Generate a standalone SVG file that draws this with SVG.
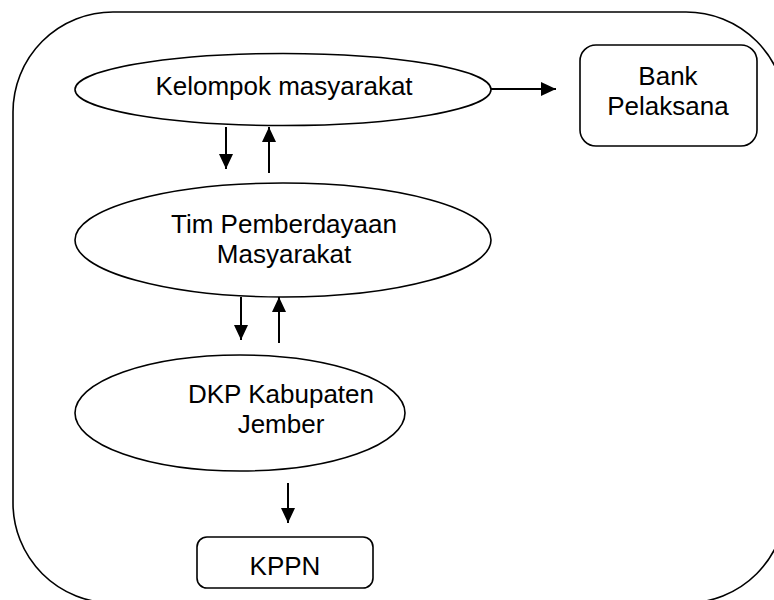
<svg xmlns="http://www.w3.org/2000/svg" width="774" height="600" viewBox="0 0 774 600">
<style>
.shape{fill:#fff;stroke:#000;stroke-width:1.6}
.outer{fill:none;stroke:#000;stroke-width:1.6}
.lbl{font-family:"Liberation Sans",Arial,sans-serif;font-size:26px;fill:#000;text-anchor:middle}
.conn{stroke:#000;stroke-width:2;fill:none}
</style>
<defs>
<marker id="ah" markerUnits="userSpaceOnUse" markerWidth="16" markerHeight="14" refX="15" refY="7" orient="auto">
<path d="M0,0 L15,7 L0,14 z" fill="#000"/>
</marker>
</defs>
<rect class="outer" x="13" y="12" width="773" height="591" rx="100" ry="100"/>
<g id="kelompok">
<ellipse class="shape" cx="283" cy="89.5" rx="208" ry="36"/>
<text class="lbl" x="284" y="95">Kelompok masyarakat</text>
</g>
<g id="bank">
<rect class="shape" x="580" y="45" width="177" height="101" rx="16" ry="16"/>
<text class="lbl" x="668" y="85">Bank</text>
<text class="lbl" x="668" y="115">Pelaksana</text>
</g>
<g id="tim">
<ellipse class="shape" cx="283" cy="240" rx="208" ry="57"/>
<text class="lbl" x="284" y="233">Tim Pemberdayaan</text>
<text class="lbl" x="284" y="263">Masyarakat</text>
</g>
<g id="dkp">
<ellipse class="shape" cx="240" cy="413" rx="165" ry="58"/>
<text class="lbl" x="281" y="403">DKP Kabupaten</text>
<text class="lbl" x="281" y="433">Jember</text>
</g>
<g id="kppn">
<rect class="shape" x="197" y="537" width="176" height="51" rx="10" ry="10"/>
<text class="lbl" x="285" y="575">KPPN</text>
</g>
<g id="connectors">
<path class="conn" d="M491,89 L556,89" marker-end="url(#ah)"/>
<path class="conn" d="M226,127 L226,169" marker-end="url(#ah)"/>
<path class="conn" d="M269,173 L269,127" marker-end="url(#ah)"/>
<path class="conn" d="M241,297 L241,340" marker-end="url(#ah)"/>
<path class="conn" d="M279,343 L279,297" marker-end="url(#ah)"/>
<path class="conn" d="M288,483 L288,523" marker-end="url(#ah)"/>
</g>
</svg>
